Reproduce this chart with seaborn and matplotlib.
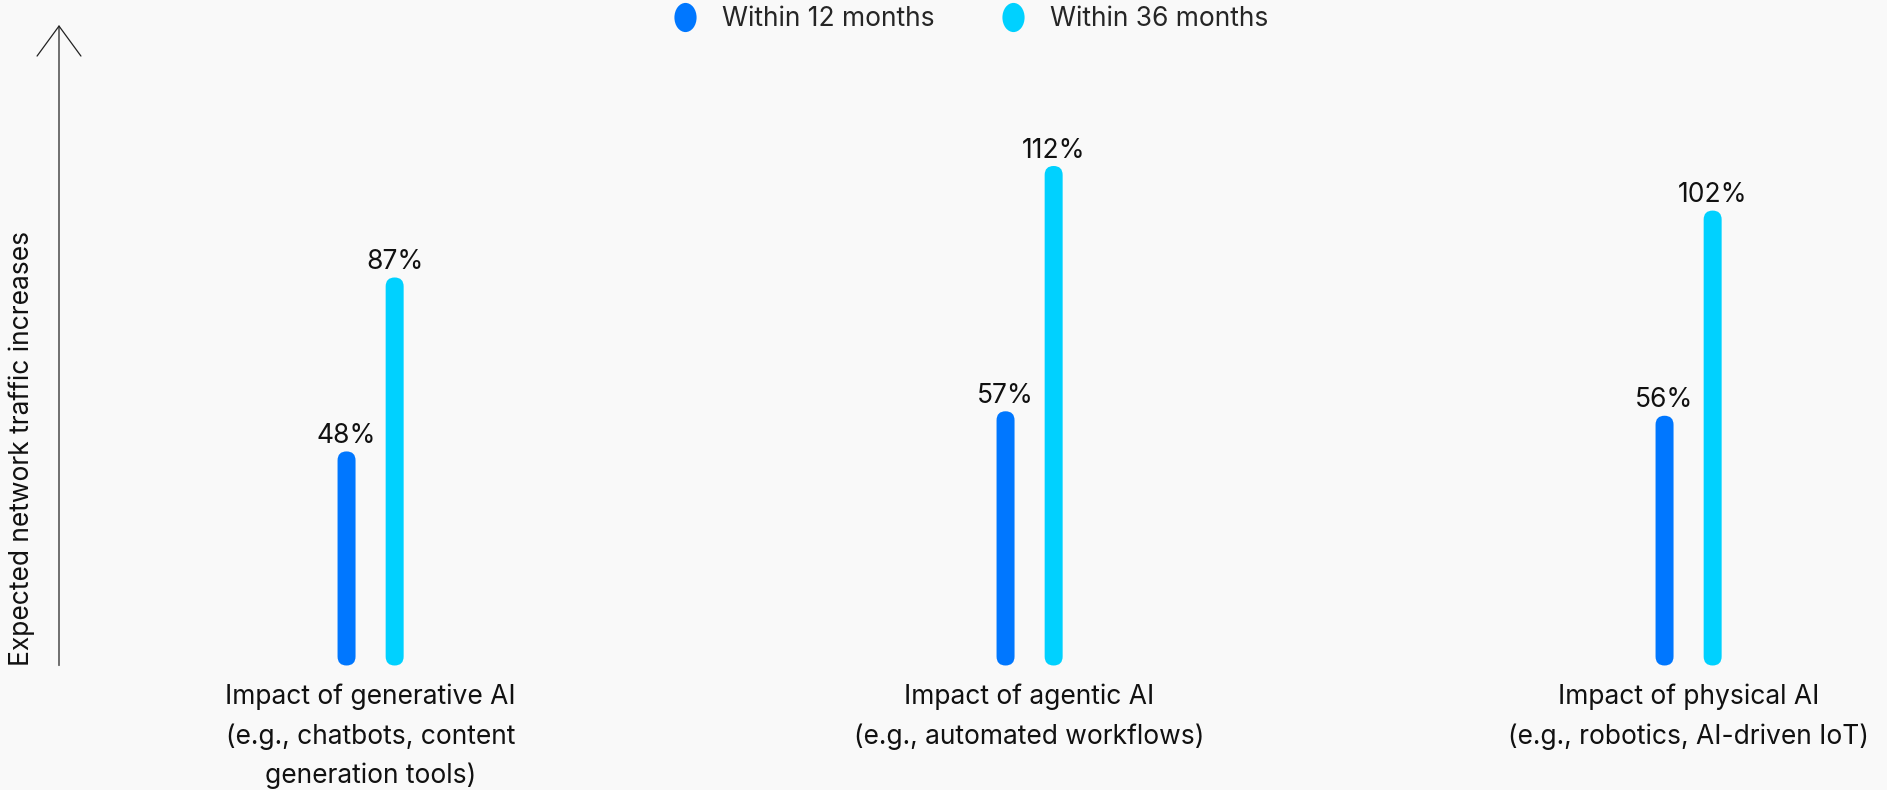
import numpy as np
import pandas as pd
import seaborn as sns
import matplotlib
matplotlib.use("Agg")
import matplotlib.pyplot as plt
from matplotlib.patches import FancyBboxPatch
from matplotlib.lines import Line2D
from matplotlib.path import Path

# ---- data ----
categories = [
    "Impact of generative AI\n(e.g., chatbots, content\ngeneration tools)",
    "Impact of agentic AI\n(e.g., automated workflows)",
    "Impact of physical AI\n(e.g., robotics, AI-driven IoT)",
]
series_names = ["Within 12 months", "Within 36 months"]
within_12 = [48, 57, 56]
within_36 = [87, 112, 102]
y_label = "Expected network traffic increases"

BLUE = "#0077FF"
CYAN = "#00D1FF"
BG = "#F9F9F9"
FONT = "Inter"
FS = 19

df = pd.DataFrame({
    "category": categories * 2,
    "period": [series_names[0]] * 3 + [series_names[1]] * 3,
    "value": within_12 + within_36,
})

sns.set_theme(style="white")
plt.rcParams["font.family"] = [FONT, "DejaVu Sans"]

W, H = 1887, 790
fig = plt.figure(figsize=(W / 100, H / 100), dpi=100, facecolor=BG)
ax_left, ax_bottom_px, ax_top_px = 59, 665.5, 25
ax = fig.add_axes([ax_left / W, (H - ax_bottom_px) / H, 1 - ax_left / W, (ax_bottom_px - ax_top_px) / H])
ax.set_facecolor(BG)

sns.barplot(data=df, x="category", y="value", hue="period", palette=[BLUE, CYAN],
            width=0.146, gap=0.626, ax=ax, legend=False, errorbar=None, saturation=1)

x0 = -(370.6 - ax_left) / 659.0
x1 = (W - 370.6) / 659.0
ax.set_xlim(x0, x1)
ymax = (ax_bottom_px - ax_top_px) / 4.46
ax.set_ylim(0, ymax)

# aspect for rounded ends
bb = ax.get_window_extent()
m_aspect = ((ymax - 0) / bb.height) / ((x1 - x0) / bb.width)

for p in list(ax.patches):
    x, w, h = p.get_x(), p.get_width(), p.get_height()
    fc = p.get_facecolor()
    p.remove()
    ax.add_patch(FancyBboxPatch((x, 0), w, h,
                                boxstyle=f"round,pad=0,rounding_size={w/2}",
                                mutation_aspect=m_aspect, fc=fc, ec="none"))
    ax.annotate(f"{h:.0f}%", xy=(x + w / 2, h), xytext=(0, 6), textcoords="offset points",
                ha="center", va="baseline", fontsize=FS, color="#111111")

for s in ax.spines.values():
    s.set_visible(False)
ax.set_yticks([])
ax.set_xlabel("")
ax.set_ylabel("")
ax.tick_params(axis="x", length=0, pad=13, labelsize=FS, labelcolor="#111111")
for t in ax.get_xticklabels():
    t.set_linespacing(1.64)
    t.set_fontfamily([FONT, "DejaVu Sans"])

# axis arrow
ax.annotate("", xy=(0, 1), xytext=(0, 0), xycoords="axes fraction",
            arrowprops=dict(arrowstyle="->,head_length=1.08,head_width=0.79",
                            lw=0.9, color="#222222", mutation_scale=20,
                            shrinkA=0, shrinkB=0))

fig.text(22 / W, (H - ax_bottom_px) / H, y_label, rotation=90, ha="center", va="bottom",
         fontsize=FS, color="#111111")

# legend with tall-ellipse dots
circ = Path.unit_circle()
ell = Path(circ.vertices * np.array([0.76, 1.0]), circ.codes)
handles = [Line2D([], [], ls="none", marker=ell, markersize=21, color=c, markeredgewidth=0)
           for c in [BLUE, CYAN]]
fig.legend(handles, series_names, ncol=2, loc="center", bbox_to_anchor=(970 / W, 1 - 19 / H),
           frameon=False, handlelength=1.0, handletextpad=0.9, columnspacing=2.5,
           fontsize=FS, borderpad=0, borderaxespad=0)

fig.savefig("out.png", dpi=100, facecolor=BG)
